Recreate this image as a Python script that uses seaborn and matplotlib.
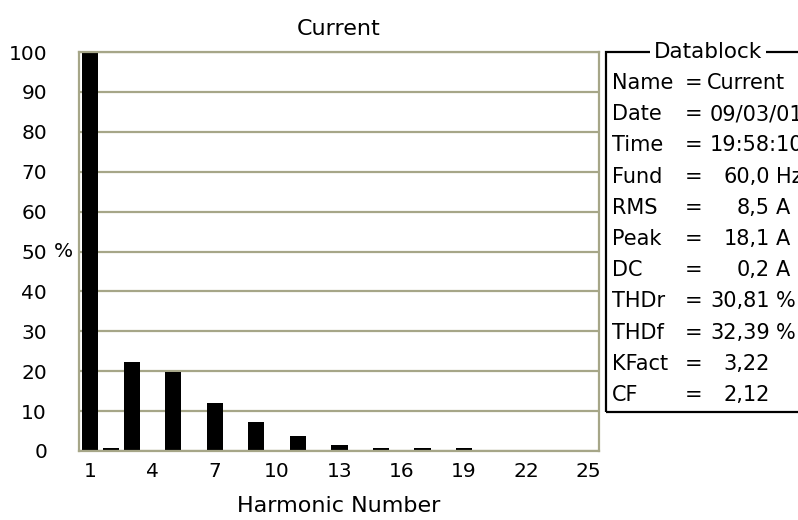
import matplotlib
matplotlib.use("Agg")
import matplotlib.pyplot as plt
from matplotlib.patches import Rectangle
import seaborn as sns

# harmonic spectrum (% of fundamental)
harmonics = list(range(1, 26))
percent = [100, 0.8, 22.4, 0, 19.8, 0, 12.0, 0, 7.2, 0, 3.7, 0, 1.6, 0,
           0.8, 0, 0.8, 0, 0.8, 0, 0, 0, 0, 0, 0]
x_ticks = [1, 4, 7, 10, 13, 16, 19, 22, 25]
y_ticks = [0, 10, 20, 30, 40, 50, 60, 70, 80, 90, 100]

# datablock contents
db_labels = ["Name", "Date", "Time", "Fund", "RMS", "Peak", "DC",
             "THDr", "THDf", "KFact", "CF"]
db_values = ["Current", "09/03/01", "19:58:10", "60,0", "8,5", "18,1",
             "0,2", "30,81", "32,39", "3,22", "2,12"]
db_units = ["", "", "", "Hz", "A", "A", "A", "%", "%", "", ""]

sns.set_style("white")
plt.rcParams['font.family'] = ['DejaVu Sans']
plt.rcParams.update({'text.color': 'black', 'axes.labelcolor': 'black',
                     'xtick.color': 'black', 'ytick.color': 'black'})

W, H = 798, 520
fig = plt.figure(figsize=(W / 100, H / 100), dpi=100)
ax = fig.add_axes([79 / W, 1 - 451 / H, 520 / W, 399 / H])

grid_col = '#a6a688'

sns.barplot(x=harmonics, y=percent, native_scale=True, width=0.78,
            color='black', linewidth=0, saturation=1, ax=ax)

ax.set_xlim(0.46, 25.5)
ax.set_ylim(0, 100)
ax.set_xticks(x_ticks)
ax.set_xticklabels([str(t) for t in x_ticks])
ax.set_yticks(y_ticks)
ax.set_yticklabels([str(t) for t in y_ticks])
ax.tick_params(axis='x', length=0, pad=8, labelsize=14.5)
ax.tick_params(axis='y', length=0, pad=23, labelsize=14.5)

ax.set_axisbelow(True)
ax.yaxis.grid(True, color=grid_col, lw=1.6)
ax.xaxis.grid(False)
for s in ax.spines.values():
    s.set_visible(True)
    s.set_color(grid_col)
    s.set_linewidth(1.6)

ax.set_title("Current", fontsize=16, pad=12)
ax.set_xlabel("Harmonic Number", fontsize=16, labelpad=11)
ax.set_ylabel("%", fontsize=14.5, rotation=0, ha='center', va='center')
ax.yaxis.set_label_coords(-0.029, 0.5)

# datablock frame
box_l, box_t, box_b = 606, 52, 411.5
fig.add_artist(Rectangle((box_l / W, 1 - box_b / H), (830 - box_l) / W,
                         (box_b - box_t) / H, transform=fig.transFigure,
                         fill=False, ec='black', lw=1.6, clip_on=False))
fig.text(708 / W, 1 - box_t / H, "Datablock", fontsize=15.5, ha='center',
         va='center', bbox=dict(fc='white', ec='none', pad=3))

fs = 15
row0, step = 83, 31.2
for i, (lab, val, unit) in enumerate(zip(db_labels, db_values, db_units)):
    y = 1 - (row0 + i * step) / H
    fig.text(612 / W, y, lab, fontsize=fs, ha='left', va='center')
    fig.text(685 / W, y, "=", fontsize=fs, ha='left', va='center')
    if i < 3:
        fig.text((707 if i == 0 else 710) / W, y, val, fontsize=fs,
                 ha='left', va='center')
    else:
        fig.text(770 / W, y, val, fontsize=fs, ha='right', va='center')
    if unit:
        fig.text(776 / W, y, unit, fontsize=fs, ha='left', va='center')

fig.savefig("out.png", dpi=100)
